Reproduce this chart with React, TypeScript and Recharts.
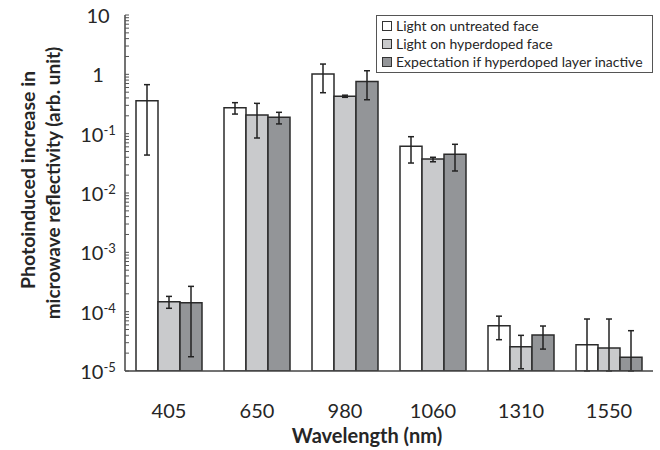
import React from 'react';
import { BarChart, Bar, XAxis, YAxis, ErrorBar, Legend } from 'recharts';

const categories = ['405', '650', '980', '1060', '1310', '1550'];

const untreated = [0.36, 0.274, 1.01, 0.0612, 5.8e-5, 2.77e-5];
const untreatedLow = [0.0436, 0.214, 0.49, 0.032, 3.37e-5, 1e-5];
const untreatedHigh = [0.67, 0.333, 1.49, 0.0889, 8.4e-5, 7.52e-5];

const hyperdoped = [1.47e-4, 0.206, 0.427, 0.0374, 2.56e-5, 2.44e-5];
const hyperdopedLow = [1.14e-4, 0.0845, 0.41, 0.0336, 1.09e-5, 1e-5];
const hyperdopedHigh = [1.81e-4, 0.324, 0.445, 0.04, 3.99e-5, 7.52e-5];

const expectation = [1.42e-4, 0.189, 0.76, 0.0449, 4.05e-5, 1.7e-5];
const expectationLow = [1.74e-5, 0.146, 0.373, 0.0235, 2.34e-5, 1e-5];
const expectationHigh = [2.67e-4, 0.229, 1.15, 0.0662, 5.73e-5, 4.78e-5];

const seriesNames = [
  'Light on untreated face',
  'Light on hyperdoped face',
  'Expectation if hyperdoped layer inactive',
];
const seriesColors = ['#ffffff', '#c9cacc', '#939598'];

const decadeExponents = [-5, -4, -3, -2, -1, 0, 1];
const minorMultipliers = [2, 3, 4, 5, 6, 7, 8, 9];

const yTicks: number[] = [];
decadeExponents.forEach((e) => {
  yTicks.push(Math.pow(10, e));
  if (e < 1) minorMultipliers.forEach((m) => yTicks.push(m * Math.pow(10, e)));
});

const data = categories.map((cat, i) => ({
  cat,
  untreated: untreated[i],
  untreatedErr: [untreated[i] - untreatedLow[i], untreatedHigh[i] - untreated[i]],
  hyperdoped: hyperdoped[i],
  hyperdopedErr: [hyperdoped[i] - hyperdopedLow[i], hyperdopedHigh[i] - hyperdoped[i]],
  expectation: expectation[i],
  expectationErr: [expectation[i] - expectationLow[i], expectationHigh[i] - expectation[i]],
}));

const FONT = 'Lato, "Open Sans", sans-serif';
const TEXT = '#262626';

const YTick = (props: any) => {
  const { x, y, payload } = props;
  const v = payload.value as number;
  const lg = Math.log10(v);
  const e = Math.round(lg);
  const isMajor = Math.abs(lg - e) < 1e-6;
  let label: React.ReactNode = null;
  if (isMajor) {
    if (e === 1) label = <tspan>10</tspan>;
    else if (e === 0) label = <tspan>1</tspan>;
    else
      label = (
        <>
          <tspan>10</tspan>
          <tspan dy={-7} fontSize={13}>{String(e)}</tspan>
        </>
      );
  }
  return (
    <g>
      <line x1={x} x2={x + 4} y1={y} y2={y} stroke="#555" strokeWidth={1} />
      {isMajor && (
        <text x={x - 27} y={y} dy={8} textAnchor="middle" fontFamily={FONT} fontSize={20} fill={TEXT}>
          {label}
        </text>
      )}
    </g>
  );
};

const XTick = (props: any) => {
  const { x, y, payload } = props;
  return (
    <text x={x} y={y} dy={47} textAnchor="middle" fontFamily={FONT} fontSize={20} fill={TEXT}>
      {payload.value}
    </text>
  );
};

const XLabel = (props: any) => {
  const vb = props.viewBox || { x: 125, y: 371, width: 528, height: 79 };
  return (
    <text
      x={vb.x + vb.width / 2 - 22}
      y={vb.y + 72}
      textAnchor="middle"
      fontFamily={FONT}
      fontWeight="bold"
      fontSize={20}
      fill={TEXT}
    >
      Wavelength (nm)
    </text>
  );
};

const YLabel = () => (
  <g>
    <text
      transform="translate(35,180) rotate(-90)"
      textAnchor="middle"
      fontFamily={FONT}
      fontWeight="bold"
      fontSize={19.5}
      fill={TEXT}
    >
      Photoinduced increase in
    </text>
    <text
      transform="translate(60,183) rotate(-90)"
      textAnchor="middle"
      fontFamily={FONT}
      fontWeight="bold"
      fontSize={19}
      fill={TEXT}
    >
      microwave reflectivity (arb. unit)
    </text>
  </g>
);

const LegendBox = () => (
  <div
    style={{
      border: '1.5px solid #555',
      background: '#fff',
      boxSizing: 'border-box',
      width: 277,
      height: 58,
      padding: '1px 0 0 5px',
      fontFamily: FONT,
      fontSize: 14,
      lineHeight: '18px',
      color: TEXT,
      whiteSpace: 'nowrap',
    }}
  >
    {seriesNames.map((name, i) => (
      <div key={name} style={{ display: 'flex', alignItems: 'center', height: 18 }}>
        <span
          style={{
            display: 'inline-block',
            width: 10,
            height: 10,
            boxSizing: 'border-box',
            border: '1.5px solid #333',
            background: seriesColors[i],
            marginRight: 4,
            flex: 'none',
          }}
        />
        <span>{name}</span>
      </div>
    ))}
  </div>
);

export default function App() {
  return (
    <div style={{ position: 'absolute', left: 0, top: 0, width: 660, height: 450 }}>
      <BarChart
        width={660}
        height={450}
        data={data}
        margin={{ top: 15, right: 7, left: 0, bottom: 0 }}
        barCategoryGap="12.5%"
        barGap={0}
      >
        <XAxis
          dataKey="cat"
          height={79}
          tickLine={false}
          tickSize={0}
          tickMargin={0}
          axisLine={{ stroke: '#444', strokeWidth: 1.5 }}
          tick={<XTick />}
          interval={0}
          label={<XLabel />}
        />
        <XAxis
          xAxisId="top"
          dataKey="cat"
          orientation="top"
          height={0}
          tick={false}
          tickLine={false}
          axisLine={{ stroke: '#444', strokeWidth: 1.5 }}
        />
        <YAxis
          scale="log"
          type="number"
          domain={[1e-5, 10]}
          allowDataOverflow
          ticks={yTicks}
          interval={0}
          width={125}
          tickLine={false}
          tickSize={0}
          tickMargin={0}
          axisLine={{ stroke: '#444', strokeWidth: 1.5 }}
          tick={<YTick />}
          label={<YLabel />}
        />
        <YAxis
          yAxisId="right"
          orientation="right"
          width={0}
          tick={false}
          tickLine={false}
          axisLine={{ stroke: '#444', strokeWidth: 1.5 }}
        />
        <Legend
          layout="horizontal"
          verticalAlign="middle"
          align="center"
          wrapperStyle={{ top: 15, left: 376, width: 277 }}
          content={<LegendBox />}
        />
        <Bar dataKey="untreated" name={seriesNames[0]} fill={seriesColors[0]} stroke="#2b2b2b" strokeWidth={1.5} isAnimationActive={false}>
          <ErrorBar dataKey="untreatedErr" width={3} stroke="#222" strokeWidth={1.5} isAnimationActive={false} />
        </Bar>
        <Bar dataKey="hyperdoped" name={seriesNames[1]} fill={seriesColors[1]} stroke="#2b2b2b" strokeWidth={1.5} isAnimationActive={false}>
          <ErrorBar dataKey="hyperdopedErr" width={3} stroke="#222" strokeWidth={1.5} isAnimationActive={false} />
        </Bar>
        <Bar dataKey="expectation" name={seriesNames[2]} fill={seriesColors[2]} stroke="#2b2b2b" strokeWidth={1.5} isAnimationActive={false}>
          <ErrorBar dataKey="expectationErr" width={3} stroke="#222" strokeWidth={1.5} isAnimationActive={false} />
        </Bar>
      </BarChart>
    </div>
  );
}
